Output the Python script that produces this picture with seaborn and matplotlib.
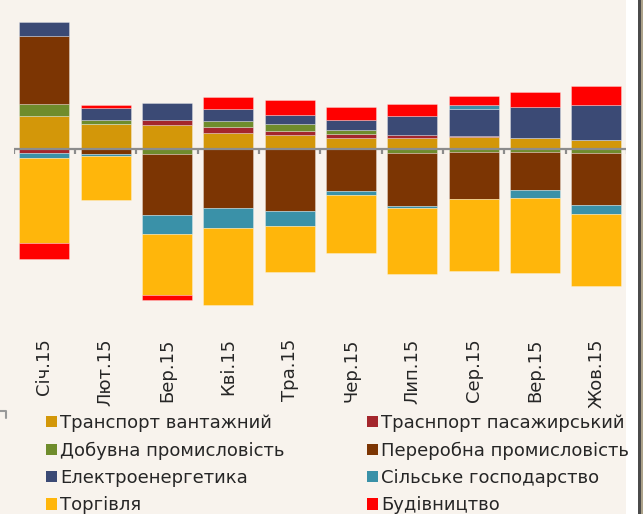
import numpy as np
import pandas as pd
import seaborn as sns
import matplotlib.pyplot as plt
from matplotlib.patches import Patch, Rectangle
from matplotlib.lines import Line2D

sns.set_style('white')
plt.rcParams['font.family'] = ['DejaVu Sans']

# contribution by sector, per month
months = ['Січ.15', 'Лют.15', 'Бер.15', 'Кві.15', 'Тра.15',
          'Чер.15', 'Лип.15', 'Сер.15', 'Вер.15', 'Жов.15']
sectors = ['Транспорт вантажний', 'Траснпорт пасажирський',
           'Добувна промисловість', 'Переробна промисловість',
           'Електроенергетика', 'Сільське господарство',
           'Торгівля', 'Будівництво']
colors = ['#D39709', '#A4262C', '#6F8C2C', '#7C3503',
          '#3B4A75', '#3A91A8', '#FFB60B', '#FF0000']

transport_cargo = [3.3, 2.5, 2.4, 1.6, 1.4, 1.1, 1.1, 1.2, 1.1, 0.9]
transport_pass = [-0.4, 0.0, 0.5, 0.6, 0.4, 0.45, 0.27, 0.13, 0.05, 0.0]
mining = [1.2, 0.4, -0.5, 0.6, 0.7, 0.33, -0.4, -0.33, -0.27, -0.4]
manufacturing = [6.8, -0.5, -6.1, -5.9, -6.2, -4.2, -5.3, -4.7, -3.8, -5.2]
energy = [1.4, 1.2, 1.7, 1.2, 0.9, 1.0, 1.9, 2.7, 3.1, 3.5]
agriculture = [-0.5, -0.2, -1.9, -2.0, -1.5, -0.4, -0.2, 0.37, -0.87, -0.87]
trade = [-8.5, -4.4, -6.1, -7.7, -4.6, -5.8, -6.6, -7.2, -7.5, -7.2]
construction = [-1.6, 0.27, -0.5, 1.2, 1.5, 1.3, 1.2, 0.87, 1.5, 1.9]

series = [transport_cargo, transport_pass, mining, manufacturing,
          energy, agriculture, trade, construction]

bg = '#F8F3ED'
W, H = 643, 514
fig = plt.figure(figsize=(W / 100, H / 100), dpi=100, facecolor=bg)
ax = fig.add_axes([13.7 / W, 1 - 330 / H, (627 - 13.7) / W, 330 / H])
ax.set_facecolor(bg)

# stacked bars, positives and negatives stacked separately
pos_base = np.zeros(len(months))
neg_base = np.zeros(len(months))
for name, vals, c in zip(sectors, series, colors):
    v = np.array(vals)
    bottom = np.where(v >= 0, pos_base, neg_base)
    df = pd.DataFrame({'month': months, 'value': v})
    sns.barplot(df, x='month', y='value', bottom=bottom, color=c,
                width=0.815, errorbar=None, saturation=1,
                edgecolor=(1, 1, 1, 0.35), linewidth=0.6, ax=ax)
    pos_base += np.where(v >= 0, v, 0)
    neg_base += np.where(v < 0, v, 0)

n = len(months)
ax.set_xlim(-0.5, n - 0.5)
ax.set_ylim(-18.1, 14.9)

# zero axis line with tick marks between categories
ax.axhline(0, color='#8C8C8C', lw=1.6, zorder=5)
ax.vlines(np.arange(n + 1) - 0.5, -0.5, 0, color='#8C8C8C', lw=1.6, zorder=5)

for s in ax.spines.values():
    s.set_visible(False)
ax.set_yticks([])
ax.set_xlabel('')
ax.set_ylabel('')
ax.tick_params(axis='x', length=0, pad=6, labelsize=13, colors='#262626')
plt.setp(ax.get_xticklabels(), rotation=90)

# legend in two columns
handles = [Patch(facecolor=c, edgecolor='none') for c in colors]
leg_kw = dict(loc='upper left', frameon=False, fontsize=13, borderpad=0,
              borderaxespad=0, handlelength=0.6, handleheight=0.6,
              handletextpad=0.2, labelspacing=0.52, labelcolor='#262626')
fig.legend(handles[0::2], sectors[0::2],
           bbox_to_anchor=(46 / W, 1 - 414 / H), **leg_kw)
fig.legend(handles[1::2], sectors[1::2],
           bbox_to_anchor=(367 / W, 1 - 414 / H), **leg_kw)

# frame remnants at the edges of the screenshot
fig.patches.append(Rectangle((626 / W, 0), 12 / W, 1, transform=fig.transFigure,
                             facecolor='white', edgecolor='none'))
fig.patches.append(Rectangle((638 / W, 0), 3 / W, 1, transform=fig.transFigure,
                             facecolor='#4B4B4B', edgecolor='none'))
fig.patches.append(Rectangle((641 / W, 0), 2 / W, 1, transform=fig.transFigure,
                             facecolor='#ADA38A', edgecolor='none'))
fig.lines.append(Line2D([0, 6 / W, 6 / W], [1 - 410.5 / H, 1 - 410.5 / H, 1 - 418 / H],
                        transform=fig.transFigure, color='#999999', lw=1.5))

fig.savefig('out.png', dpi=100, facecolor=bg)
